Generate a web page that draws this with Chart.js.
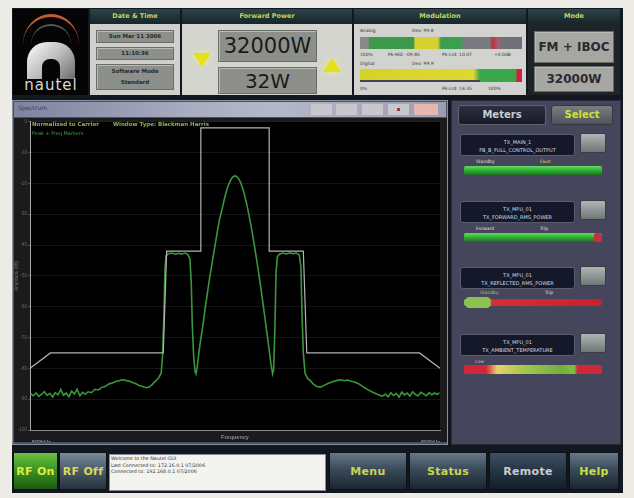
<!DOCTYPE html>
<html><head><meta charset="utf-8">
<script src="https://cdn.jsdelivr.net/npm/chart.js@4.4.1/dist/chart.umd.min.js"></script>
<style>
*{box-sizing:border-box;margin:0;padding:0}
body{width:634px;height:498px;background:#ecebe5;position:relative;overflow:hidden;font-family:"DejaVu Sans",sans-serif}
.a{position:absolute}
.hdr{position:absolute;left:0;right:0;top:0;height:15px;background:linear-gradient(#2c4448,#16262a);color:#c9d35a;font-size:6.5px;font-weight:bold;text-align:center;line-height:15px}
.gbox{position:absolute;background:#8d8f8b;border:1px solid #6a6c68;box-shadow:inset 1px 1px 0 #b8bab5;color:#2a2a2a;text-align:center;font-weight:bold}
.tiny{position:absolute;font-size:4.5px;color:#333;white-space:nowrap}
.btn{position:absolute;top:452px;height:38px;background:linear-gradient(#66798a,#3a4a5a 45%,#1c2632);border:1px solid #0c1218;color:#c8d654;font-weight:bold;font-size:11px;text-align:center;line-height:38px;letter-spacing:0.3px}
.mbox{position:absolute;left:460px;width:115px;height:22px;background:#141829;border:1px solid #5a5c70;border-radius:3px;color:#d8d8e0;font-size:5px;text-align:center;line-height:8px;padding-top:3px}
.msb{position:absolute;left:580px;width:26px;height:20px;background:linear-gradient(#b0b6b6,#6e7676);border:1px solid #3a3c44;border-radius:2px}
.mbar{position:absolute;left:464px;width:138px;height:9px;border-radius:2px}
.ml{position:absolute;font-size:4.5px;color:#e0e0e0;white-space:nowrap}
</style></head>
<body>
<div class="a" style="left:12px;top:8px;width:611px;height:485px;background:#121820"></div>

<!-- logo -->
<div class="a" style="left:13px;top:9px;width:75px;height:86px;background:#050505;overflow:hidden">
  <div class="a" style="left:10px;top:5px;width:56px;height:30px;border-top:3px solid #c25a3a;border-radius:50% 50% 0 0/100% 100% 0 0"></div>
  <div class="a" style="left:18px;top:15px;width:40px;height:20px;border-top:2px solid #5a5a5a;border-radius:50% 50% 0 0/100% 100% 0 0"></div>
  <div class="a" style="left:14px;top:33px;width:48px;height:37px;background:linear-gradient(135deg,#ffffff,#b8b8b8 55%,#6a6a6a);border-radius:20px 20px 0 0"></div>
  <div class="a" style="left:29px;top:50px;width:18px;height:20px;background:#050505;border-radius:8px 8px 0 0"></div>
  <div class="a" style="left:2px;top:67px;width:72px;font-size:15px;color:#d8d8d8;letter-spacing:1px;text-align:center">nautel</div>
</div>

<!-- date & time -->
<div class="a" style="left:90px;top:9px;width:90px;height:86px;background:#cfd0cb;overflow:hidden">
  <div class="hdr">Date &amp; Time</div>
  <div class="gbox" style="left:6px;top:21px;width:78px;height:13px;font-size:5.5px;line-height:11px">Sun Mar 11 2006</div>
  <div class="gbox" style="left:6px;top:38px;width:78px;height:13px;font-size:5.5px;line-height:11px">11:10:36</div>
  <div class="gbox" style="left:6px;top:55px;width:78px;height:26px;font-size:5.5px;line-height:11px;padding-top:1px">Software Mode<br>Standard</div>
</div>

<!-- forward power -->
<div class="a" style="left:182px;top:9px;width:170px;height:86px;background:#d4d5cf;overflow:hidden">
  <div class="hdr">Forward Power</div>
  <div class="a" style="left:11px;top:44px;width:0;height:0;border-left:9px solid transparent;border-right:9px solid transparent;border-top:14px solid #e6e01c;filter:drop-shadow(0 0 3px #f4f080)"></div>
  <div class="gbox" style="left:36px;top:21px;width:99px;height:32px;font-size:21px;font-weight:normal;line-height:30px;color:#1a1a1a">32000W</div>
  <div class="gbox" style="left:36px;top:58px;width:99px;height:27px;font-size:20px;font-weight:normal;line-height:26px;color:#1a1a1a">32W</div>
  <div class="a" style="left:141px;top:49px;width:0;height:0;border-left:9px solid transparent;border-right:9px solid transparent;border-bottom:14px solid #e6e01c;filter:drop-shadow(0 0 3px #f4f080)"></div>
</div>

<!-- modulation -->
<div class="a" style="left:354px;top:9px;width:172px;height:86px;background:#d2d3ce;overflow:hidden">
  <div class="hdr">Modulation</div>
  <div class="tiny" style="left:6px;top:19px">Analog</div>
  <div class="tiny" style="left:58px;top:19px">Dev: 99.8</div>
  <div class="a" style="left:6px;top:28px;width:162px;height:12px;background:linear-gradient(to right,#8a8a8a 0,#8a8a8a 5%,#3c9a4a 6%,#3c9a4a 33%,#d8d030 34%,#d8d030 48%,#3aa050 50%,#3aa050 62%,#7a7a80 64%,#7a7a80 80%,#c03040 82%,#a06070 85%,#707078 88%,#707078 100%)"></div>
  <div class="tiny" style="left:6px;top:43px">100%</div>
  <div class="tiny" style="left:34px;top:43px">Pk-Hld: -09.85</div>
  <div class="tiny" style="left:88px;top:43px">Pk-Lrd: 10.07</div>
  <div class="tiny" style="left:140px;top:43px">+0.0dB</div>
  <div class="tiny" style="left:6px;top:52px">Digital</div>
  <div class="tiny" style="left:58px;top:52px">Dev: 99.9</div>
  <div class="a" style="left:6px;top:60px;width:162px;height:13px;background:linear-gradient(to right,#d6d22a 0,#e0d830 70%,#3aa84a 74%,#3aa84a 96%,#d02040 97%,#d02040 100%)"></div>
  <div class="a" style="left:6px;top:71px;width:120px;height:2px;background:#445"></div>
  <div class="tiny" style="left:6px;top:77px">0%</div>
  <div class="tiny" style="left:88px;top:77px">Pk-Lrd: 14.35</div>
  <div class="tiny" style="left:134px;top:77px">100%</div>
</div>

<!-- mode -->
<div class="a" style="left:528px;top:9px;width:92px;height:86px;background:#1e2428;overflow:hidden">
  <div class="hdr">Mode</div>
  <div class="gbox" style="left:6px;top:22px;width:80px;height:32px;font-size:12px;line-height:30px;background:#a6a7a3;color:#2a2a30">FM + IBOC</div>
  <div class="gbox" style="left:6px;top:57px;width:80px;height:26px;font-size:12px;line-height:24px;background:#a6a7a3;color:#2a2a30">32000W</div>
</div>

<!-- spectrum window -->
<div class="a" style="left:12px;top:100px;width:436px;height:345px;background:#4e5260;border:1px solid #8a8e9a"></div>
<div class="a" style="left:14px;top:102px;width:432px;height:15px;background:linear-gradient(to right,#7e84a0,#a8acc0 40%,#b4b8c8 60%,#9a9eb4)"></div>
<div class="a" style="left:18px;top:104px;font-size:6px;color:#3a3e50">Spectrum</div>
<div class="a" style="left:311px;top:104px;width:21px;height:11px;background:#c8c8cc"></div>
<div class="a" style="left:336px;top:104px;width:21px;height:11px;background:#c8c8cc"></div>
<div class="a" style="left:362px;top:104px;width:21px;height:11px;background:#c8c8cc"></div>
<div class="a" style="left:388px;top:104px;width:21px;height:11px;background:#c8c8cc"><div class="a" style="left:9px;top:4px;width:3px;height:3px;background:#a03040"></div></div>
<div class="a" style="left:414px;top:104px;width:24px;height:11px;background:#e4b8b0"></div>
<canvas id="c" width="433" height="324" class="a" style="left:14px;top:118px;width:433px;height:324px"></canvas>
<div class="a" style="left:32px;top:121px;font-size:5.5px;font-weight:bold;color:#8fb24e">Normalized to Carrier</div>
<div class="a" style="left:113px;top:121px;font-size:5.5px;font-weight:bold;color:#8fb24e">Window Type: Blackman Harris</div>
<div class="a" style="left:32px;top:130px;font-size:5px;color:#4c9a4c">Peak + Freq Markers</div>

<!-- meters panel -->
<div class="a" style="left:451px;top:100px;width:170px;height:345px;background:#45465c;border:1px solid #2a2b3a"></div>
<div class="a" style="left:458px;top:105px;width:88px;height:20px;background:linear-gradient(#2a2e3e,#181b26);border:1px solid #606272;border-radius:3px;color:#c8ccd4;font-size:10px;font-weight:bold;text-align:center;line-height:18px">Meters</div>
<div class="a" style="left:551px;top:105px;width:62px;height:20px;background:linear-gradient(#7a7e80,#50545a);border:1px solid #33363e;border-radius:3px;color:#cfe03a;font-size:10px;font-weight:bold;text-align:center;line-height:18px">Select</div>

<div class="mbox" style="top:134px">TX_MAIN_1<br>FB_B_FULL_CONTROL_OUTPUT</div>
<div class="msb" style="top:133px"></div>
<div class="ml" style="left:476px;top:159px">Standby</div>
<div class="ml" style="left:540px;top:159px;color:#d8d050">Fault</div>
<div class="mbar" style="top:166px;background:linear-gradient(#5ee060,#2aa030 60%,#1a7020)"></div>

<div class="mbox" style="top:201px">TX_MPU_01<br>TX_FORWARD_RMS_POWER</div>
<div class="msb" style="top:200px"></div>
<div class="ml" style="left:476px;top:226px">Forward</div>
<div class="ml" style="left:540px;top:226px">Trip</div>
<div class="mbar" style="top:233px;background:linear-gradient(#5ee060,#2aa030 60%,#1a7020)"></div>
<div class="a" style="left:594px;top:233px;width:8px;height:9px;background:#c83040;border-radius:2px"></div>

<div class="mbox" style="top:267px">TX_MPU_01<br>TX_REFLECTED_RMS_POWER</div>
<div class="msb" style="top:266px"></div>
<div class="ml" style="left:480px;top:290px;color:#9ad060">Standby</div>
<div class="ml" style="left:545px;top:290px">Trip</div>
<div class="mbar" style="top:299px;height:7px;background:linear-gradient(to right,#8cc050 0,#8cc050 19%,#d82c38 20%,#c82030 100%)"></div>
<div class="a" style="left:466px;top:297px;width:24px;height:11px;background:#8cc050;border-radius:3px"></div>

<div class="mbox" style="top:334px">TX_MPU_01<br>TX_AMBIENT_TEMPERATURE</div>
<div class="msb" style="top:333px"></div>
<div class="ml" style="left:475px;top:359px;color:#e0b0b0">Low</div>
<div class="mbar" style="top:365px;background:linear-gradient(to right,#d02838 0,#d02838 16%,#e8d070 24%,#b0c850 40%,#70b040 70%,#80c040 80%,#d02838 82%,#d02838 100%)"></div>

<!-- bottom bar -->
<div class="btn" style="left:13px;width:45px;background:linear-gradient(#6cc040,#3a9020 50%,#1e5a14);color:#e2ec40">RF On</div>
<div class="btn" style="left:59px;width:48px;background:linear-gradient(#7a8a9a,#4a5868 50%,#28323e);color:#dada5a">RF Off</div>
<div class="a" style="left:109px;top:454px;width:217px;height:37px;background:#f3f3ef;border:1px solid #889"></div>
<div class="a" style="left:111px;top:456px;font-size:4.8px;color:#333;line-height:6.5px;white-space:nowrap">Welcome to the Nautel GUI<br>Last Connected to: 172.16.0.1 07/2006<br>Connected to: 192.168.0.1 07/2006</div>
<div class="btn" style="left:329px;width:78px">Menu</div>
<div class="btn" style="left:409px;width:78px">Status</div>
<div class="btn" style="left:489px;width:78px;background:linear-gradient(#3e5064,#263444 50%,#141e2a);color:#c8ccd2">Remote</div>
<div class="btn" style="left:569px;width:50px;color:#c8e040">Help</div>

<script>
// Emission mask (kHz offset, dB relative)
const maskFreq  = [-600, -540, -210, -200, -100, -100, 100, 100, 200, 210, 540, 600];
const maskLevel = [-80, -75, -75, -42, -42, -2, -2, -42, -42, -75, -75, -80];

// Measured FM + IBOC spectrum (kHz offset, dB relative)
const specFreq = [
 -598,-590,-582,-574,-566,-558,-550,-542,-534,-526,-518,-510,-502,-494,-486,-478,-470,-462,-454,-446,-438,
 -430,-420,-410,-400,-390,-380,-370,-360,-350,-340,-330,-320,-310,-300,-290,-280,-270,-260,-250,-242,-235,-228,-222,-216,
 -212,-208,-205,-202,-195,-185,-175,-165,-155,-145,-138,-132,-128,-125,-121,-117,
 -114,-110,-104,-98,-92,-86,-80,-74,-68,-62,-56,-50,-44,-38,-32,-26,-20,-14,-8,-2,
 4,10,16,22,28,34,40,46,52,58,64,70,76,82,88,94,100,105,110,
 113,117,120,124,130,140,150,160,170,180,188,193,196,200,205,
 212,220,230,240,250,260,270,280,290,300,310,320,330,340,350,360,370,380,390,400,410,420,
 430,440,448,456,464,472,480,488,496,504,512,520,528,536,544,552,560,568,576,584,592,598
];
const specLevel = [
 -88.2,-88.9,-88.0,-89.1,-88.4,-87.6,-88.8,-88.1,-89.3,-87.9,-88.6,-86.9,-88.7,-88.0,-89.2,-87.4,-88.3,-86.8,-88.9,-87.8,-88.4,
 -87.6,-87.9,-86.8,-87.0,-86.2,-85.9,-85.1,-84.8,-84.3,-84.0,-83.7,-83.9,-84.1,-84.6,-85.0,-85.6,-85.9,-86.3,-86.0,-85.2,-84.4,-83.6,-82.8,-81.5,
 -76.0,-62.0,-48.0,-43.5,-42.8,-42.6,-43.0,-42.7,-42.9,-42.6,-43.1,-44.5,-52.0,-66.0,-76.0,-81.0,
 -81.8,-79.0,-73.5,-69.0,-64.5,-59.5,-55.0,-50.5,-46.5,-42.5,-38.5,-34.5,-31.0,-28.5,-25.5,-22.8,-20.8,-19.2,-18.1,-17.6,
 -17.7,-18.4,-19.6,-21.4,-23.8,-26.6,-29.8,-33.2,-37.0,-41.0,-45.2,-49.6,-54.2,-59.0,-64.0,-69.0,-74.0,-78.5,-81.8,
 -80.5,-66.0,-49.0,-43.8,-43.0,-42.6,-42.9,-42.5,-42.8,-42.6,-43.2,-47.0,-62.0,-75.0,-81.5,
 -83.2,-84.0,-85.2,-85.9,-86.1,-85.6,-85.0,-84.6,-84.2,-83.9,-83.7,-84.0,-83.8,-84.2,-84.4,-84.9,-85.6,-86.4,-87.0,-87.6,-88.1,-88.6,
 -89.0,-88.4,-89.2,-87.9,-88.8,-88.1,-89.4,-87.7,-88.6,-88.0,-89.0,-87.6,-88.5,-88.9,-87.8,-88.3,-88.9,-87.9,-88.6,-88.0,-88.5,-87.9
];

const xTicks = [-600, 600];

const maskPts = maskFreq.map((f, i) => ({x: f, y: maskLevel[i]}));
const specPts = specFreq.map((f, i) => ({x: f, y: specLevel[i]}));

const bgPlugin = {
  id: 'bg',
  beforeDraw(chart) {
    const {ctx, chartArea: a, width, height} = chart;
    ctx.save();
    ctx.fillStyle = '#1b1b1e';
    ctx.fillRect(0, 0, width, height);
    ctx.fillStyle = '#000';
    ctx.fillRect(a.left, a.top, a.right - a.left, a.bottom - a.top);
    ctx.restore();
  }
};

new Chart(document.getElementById('c'), {
  type: 'scatter',
  data: {
    datasets: [
      {label: 'Mask', data: maskPts, showLine: true, borderColor: '#b4b4b4', borderWidth: 1.2, pointRadius: 0, tension: 0},
      {label: 'Spectrum', data: specPts, showLine: true, borderColor: '#3a963c', borderWidth: 1.6, pointRadius: 0, tension: 0}
    ]
  },
  options: {
    responsive: false,
    animation: false,
    devicePixelRatio: 1,
    layout: {padding: {top: 2, right: 7, left: 0, bottom: 0}},
    plugins: {legend: {display: false}, tooltip: {enabled: false}},
    scales: {
      x: {
        type: 'linear', min: -600, max: 600,
        afterFit(s) { s.height = 12; },
        afterBuildTicks(s) { s.ticks = xTicks.map(v => ({value: v})); },
        grid: {display: false},
        border: {color: '#8a8a8a', width: 1},
        ticks: {align: 'inner', padding: 1, color: '#9a9a9a', font: {size: 5.5, weight: 'bold'}, callback: v => v + 'kHz'},
        title: {display: true, text: 'Frequency', color: '#8a8a8a', font: {size: 5.5, weight: 'bold'}, padding: {top: 0, bottom: 1}}
      },
      y: {
        min: -100, max: 0,
        afterFit(s) { s.width = 16; },
        grid: {color: 'rgba(90,90,90,0.45)', lineWidth: 1, tickLength: 2, drawTicks: true, tickColor: '#777'},
        border: {color: '#a8a8a8', width: 1, dash: []},
        ticks: {stepSize: 10, color: '#6a6a6a', font: {size: 4.5}, padding: 1},
        title: {display: true, text: 'Amplitude (dB)', color: '#6a6a6a', font: {size: 4.5}, padding: 0}
      }
    }
  },
  plugins: [bgPlugin]
});
// faint dotted grid like the reference
Chart.getChart('c').options.scales.y.grid.color = 'rgba(70,70,70,0.5)';
Chart.getChart('c').options.scales.y.border.dash = [];
Chart.getChart('c').options.scales.y.grid.lineWidth = 0.6;
Chart.getChart('c').update();
</script>
</body></html>
